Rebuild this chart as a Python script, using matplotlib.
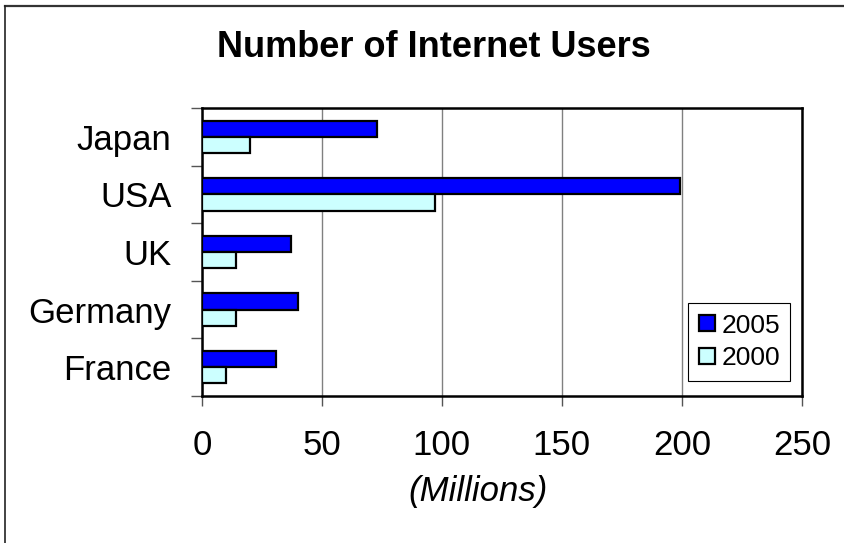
import matplotlib.pyplot as plt
import numpy as np
from matplotlib.lines import Line2D

plt.rcParams['font.family'] = ['Liberation Sans', 'DejaVu Sans']

# internet users in millions
countries = ['Japan', 'USA', 'UK', 'Germany', 'France']
users_2005 = [73, 199, 37, 40, 31]
users_2000 = [20, 97, 14, 14, 10]

y = np.arange(len(countries))[::-1]
height = 0.28

fig = plt.figure(figsize=(8.45, 5.43), dpi=100)
ax = fig.add_axes([0.239, 0.271, 0.710, 0.530])

bars1 = ax.barh(y + height/2, users_2005, height, color='#0000FF',
                edgecolor='black', linewidth=1.6, label='2005', zorder=3)
bars2 = ax.barh(y - height/2, users_2000, height, color='#CCFFFF',
                edgecolor='black', linewidth=1.6, label='2000', zorder=3)

ax.set_xlim(0, 250)
ax.set_ylim(-0.5, len(countries) - 0.5)

# x ticks and vertical gridlines
ax.set_xticks(np.arange(0, 251, 50))
ax.tick_params(axis='x', direction='out', length=7, width=1, pad=17,
               labelsize=25, color='#555555')
ax.xaxis.grid(True, color='#808080', linewidth=1, zorder=0)

# country names on the middle of each group, tick marks between groups
ax.set_yticks(y)
ax.set_yticklabels(countries)
ax.tick_params(axis='y', which='major', length=0, pad=22, labelsize=25)
ax.set_yticks(np.arange(-0.5, len(countries)), minor=True)
ax.tick_params(axis='y', which='minor', direction='out', length=8, width=1,
               color='#555555')

for side in ['left', 'bottom', 'top', 'right']:
    ax.spines[side].set_linewidth(1.8)
    ax.spines[side].set_color('black')

fig.text(0.513, 0.895, 'Number of Internet Users', ha='center',
         va='baseline', fontsize=26, fontweight='bold')
fig.text(0.566, 0.094, '(Millions)', ha='center', va='center',
         fontsize=25, style='italic')

leg = ax.legend(loc='upper left', bbox_to_anchor=(688/845, 1 - 303/543),
                bbox_transform=fig.transFigure, fontsize=19, fancybox=False,
                framealpha=1, edgecolor='black', borderaxespad=0,
                handlelength=0.64, handleheight=0.53, handletextpad=0.22,
                labelspacing=0.33, borderpad=0.4)
leg.get_frame().set_linewidth(0.8)

# chart border
fig.add_artist(Line2D([5/845, 1], [1 - 6/543, 1 - 6/543], color='#333333',
                      linewidth=1.6))
fig.add_artist(Line2D([5/845, 5/845], [0, 1 - 6/543], color='#222222',
                      linewidth=1.2))

fig.savefig('out.png', dpi=100)
